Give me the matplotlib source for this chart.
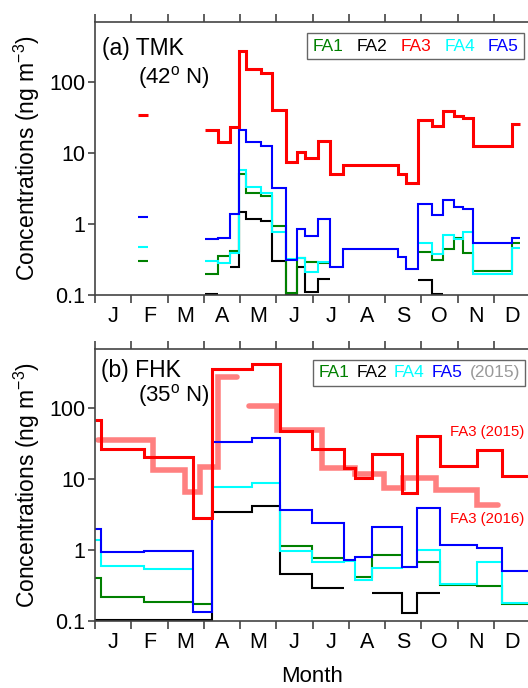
import numpy as np
import matplotlib
matplotlib.use('Agg')
import matplotlib.pyplot as plt
from matplotlib.lines import Line2D
from matplotlib.ticker import NullLocator

plt.rcParams['font.family'] = ['Liberation Sans', 'DejaVu Sans']
plt.rcParams['mathtext.fontset'] = 'custom'
plt.rcParams['mathtext.rm'] = 'Liberation Sans'
plt.rcParams['mathtext.it'] = 'Liberation Sans:italic'
plt.rcParams['mathtext.bf'] = 'Liberation Sans:bold'

# ---------------- data ----------------
months = ['J', 'F', 'M', 'A', 'M', 'J', 'J', 'A', 'S', 'O', 'N', 'D']
yticks = [0.1, 1, 10, 100]
ytick_labels = ['0.1', '1', '10', '100']
nan = np.nan

# (a) TMK: sampling interval edges (month units, 0 = 1 Jan)
tmk_edges = [1.19, 1.47, 3.03, 3.40, 3.72, 3.97, 4.17, 4.57, 4.87, 5.27, 5.58, 5.79,
             6.16, 6.48, 6.83, 8.35, 8.58, 8.92, 9.29, 9.61, 9.90, 10.16, 10.42, 11.51, 11.72]
tmk_fa1 = [0.30, nan, 0.20, 0.354, 0.42, 5.06, 2.7, 2.43, 0.94, 0.105, 0.33, 0.29, 0.28,
           nan, nan, nan, nan, 0.40, 0.31, 0.445, 0.63, 0.386, 0.216, 0.53]
tmk_fa2 = [nan, nan, 0.102, nan, 0.25, 1.49, 1.16, 1.11, 0.30, 0.102, 0.245, 0.11, 0.168,
           nan, nan, nan, nan, 0.163, 0.102, nan, nan, nan, nan, nan]
tmk_fa3 = [34, nan, 20.6, 14.1, 22.7, 267, 152, 132, 40, 7.4, 10.4, 8.4, 14.6,
           5.06, 6.8, 5.06, 3.74, 28.5, 24, 39, 32.5, 30.8, 12.3, 25.6]
tmk_fa4 = [0.48, nan, 0.30, 0.28, 0.39, 5.8, 3.29, 2.7, 0.78, 0.32, 0.335, 0.213, 0.29,
           nan, nan, nan, nan, 0.545, 0.378, 0.70, 0.61, 0.76, 0.20, 0.46]
tmk_fa5 = [1.24, nan, 0.61, 0.64, 1.37, 21, 14, 12.3, 3.18, 0.315, 0.84, 0.68, 1.18,
           0.25, 0.445, 0.34, 0.23, 1.91, 1.34, 2.18, 1.75, 1.61, 0.53, 0.64]

# (b) FHK 2015
fhk_edges = [0, 0.166, 1.36, 2.69, 3.24, 4.32, 5.10, 5.99, 6.88, 7.17, 7.63, 8.46,
             8.87, 9.52, 10.53, 11.22, 12.0]
fhk_fa1 = [0.41, 0.22, 0.187, 0.176, nan, nan, 1.15, 0.77, nan, 0.42, 0.85, nan,
           0.68, 0.32, 0.314, 0.176]
fhk_fa2 = [0.102, 0.102, 0.102, 0.102, 3.45, 4.15, 0.46, 0.29, nan, nan, 0.25, 0.13,
           0.25, nan, nan, nan]
fhk_fa3 = [67.7, 27, 20.6, 2.85, 362, 425, 47.9, 27, 14.6, 10.4, 22.5, 6.5,
           41, 15.4, 26.3, 11.0]
fhk_fa4 = [1.38, 0.60, 0.54, nan, 7.9, 8.95, 0.975, 0.67, 0.70, 0.377, 0.565, 0.57,
           0.99, 0.33, 0.69, 0.18]
fhk_fa5 = [2.02, 0.946, 0.96, 0.135, 33.5, 38.2, 3.74, 2.4, 0.715, 0.81, 2.15, 0.58,
           3.9, 1.2, 1.06, 0.505]

# (b) FHK FA3 2016
fhk16_edges = [0.08, 1.61, 2.48, 2.90, 3.38, 3.91, 4.26, 5.01, 6.25, 7.17, 7.97, 8.50,
               9.42, 10.53, 11.13]
fhk16_fa3 = [35.4, 13.4, 6.6, 15.0, 282, nan, 110, 50, 14.5, 11.7, 7.45, 10.3, 7.1, 4.4]

# ---------------- figure ----------------
W, H = 528, 688
fig = plt.figure(figsize=(W / 100, H / 100), dpi=100)
ax1 = fig.add_axes([95 / W, 1 - 295 / H, 435 / W, 273 / H])
ax2 = fig.add_axes([95 / W, 1 - 621 / H, 435 / W, 272 / H])

frame_c = '#444444'


def style(ax):
    ax.set_yscale('log')
    ax.set_xlim(0, 12)
    ax.set_ylim(0.1, 690)
    ax.set_yticks(yticks)
    ax.set_yticklabels(ytick_labels)
    ax.yaxis.set_minor_locator(NullLocator())
    ax.set_xticks(np.arange(13))
    ax.set_xticklabels([])
    ax.set_xticks(np.arange(12) + 0.5, minor=True)
    ax.set_xticklabels(months, minor=True)
    ax.tick_params(axis='x', which='major', direction='out', length=5.5, width=1.2,
                   top=True, bottom=True, color=frame_c)
    ax.tick_params(axis='x', which='minor', length=0, pad=8, labelsize=15.5, top=False)
    ax.tick_params(axis='y', which='major', direction='out', length=5, width=1.2,
                   pad=2, labelsize=15.5, color=frame_c)
    ax.set_ylabel(r'Concentrations (ng m$^{-3}$)', fontsize=16.5, labelpad=5)
    for sp in ax.spines.values():
        sp.set_color(frame_c)
        sp.set_linewidth(1.2)


style(ax1)
style(ax2)
ax2.set_xlabel('Month', fontsize=16, labelpad=9)

lw = 1.5
lw_red = 2.2

# top panel
ax1.stairs(tmk_fa2, tmk_edges, baseline=None, color='black', lw=lw)
ax1.stairs(tmk_fa1, tmk_edges, baseline=None, color='green', lw=lw)
ax1.stairs(tmk_fa4, tmk_edges, baseline=None, color='cyan', lw=lw)
ax1.stairs(tmk_fa5, tmk_edges, baseline=None, color='blue', lw=lw)
ax1.stairs(tmk_fa3, tmk_edges, baseline=None, color='red', lw=lw_red)

# bottom panel
ax2.stairs(fhk16_fa3, fhk16_edges, baseline=None, color='#ff8080', lw=4, capstyle='round')
ax2.stairs(fhk_fa2, fhk_edges, baseline=None, color='black', lw=lw)
ax2.stairs(fhk_fa1, fhk_edges, baseline=None, color='green', lw=lw)
ax2.stairs(fhk_fa4, fhk_edges, baseline=None, color='cyan', lw=lw)
ax2.stairs(fhk_fa5, fhk_edges, baseline=None, color='blue', lw=lw)
ax2.stairs(fhk_fa3, fhk_edges, baseline=None, color='red', lw=lw_red)

# text annotations
ax1.text(0.0154, 0.879, '(a) TMK', transform=ax1.transAxes, fontsize=16.5, va='baseline')
ax1.text(0.0996, 0.7755, r'(42$^{\rm o}$ N)', transform=ax1.transAxes, fontsize=16, va='baseline')
ax2.text(0.0138, 0.896, '(b) FHK', transform=ax2.transAxes, fontsize=16.5, va='baseline')
ax2.text(0.0996, 0.806, r'(35$^{\rm o}$ N)', transform=ax2.transAxes, fontsize=16, va='baseline')
ax2.text(0.816, 0.680, 'FA3 (2015)', transform=ax2.transAxes, fontsize=10.8, color='red',
         va='baseline')
ax2.text(0.816, 0.359, 'FA3 (2016)', transform=ax2.transAxes, fontsize=10.8, color='red',
         va='baseline')


def text_legend(ax, labels, colors, anchor, spacing):
    handles = [Line2D([], [], color='none', label=l) for l in labels]
    leg = ax.legend(handles=handles, ncol=len(labels), handlelength=0, handletextpad=0,
                    columnspacing=spacing, loc='upper right', bbox_to_anchor=anchor,
                    bbox_transform=ax.transAxes, borderaxespad=0, fancybox=False,
                    edgecolor='#666666', fontsize=12.5, borderpad=0.3, framealpha=1)
    for t, c in zip(leg.get_texts(), colors):
        t.set_color(c)
    leg.get_frame().set_linewidth(1.0)
    return leg


text_legend(ax1, ['FA1', 'FA2', 'FA3', 'FA4', 'FA5'],
            ['green', 'black', 'red', 'cyan', 'blue'], (0.9862, 0.9586), 0.75)
text_legend(ax2, ['FA1', 'FA2', 'FA4', 'FA5', '(2015)'],
            ['green', 'black', 'cyan', 'blue', '#999999'], (0.9885, 0.9596), 0.4)

fig.savefig('out.png', dpi=100)
